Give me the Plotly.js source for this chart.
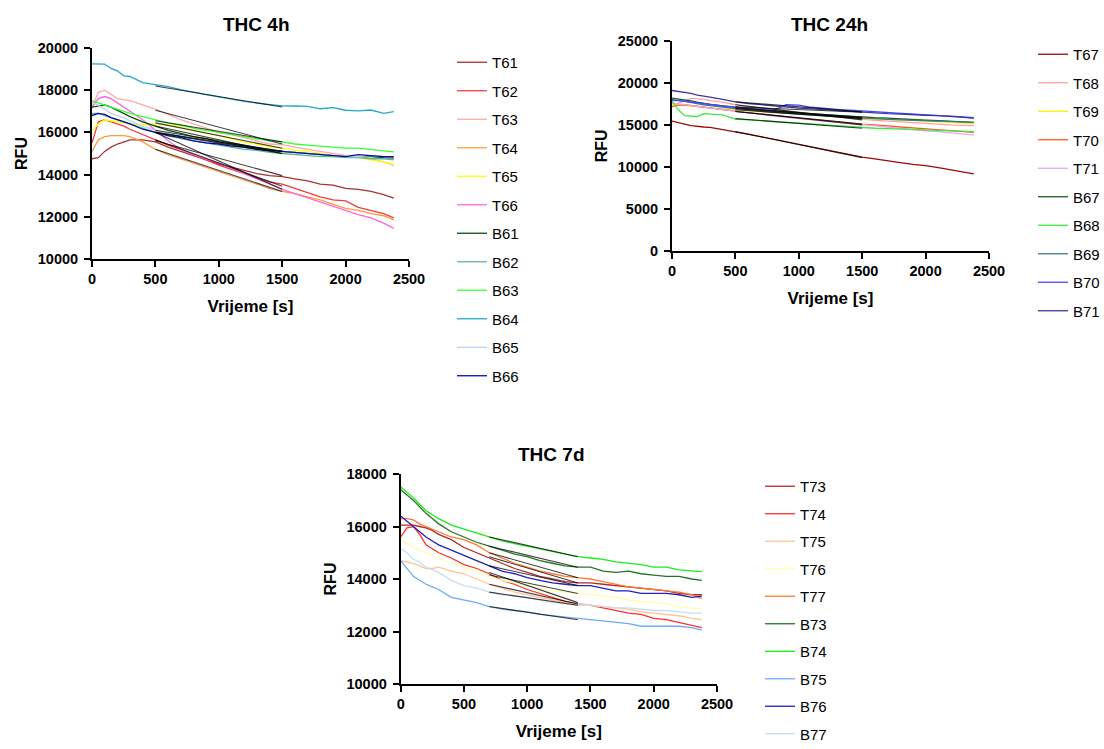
<!DOCTYPE html>
<html><head><meta charset="utf-8">
<script src="https://cdn.plot.ly/plotly-3.0.1.min.js"></script>
<style>html,body{margin:0;padding:0;background:#fff}#chart{width:1104px;height:749px}.legend .scrollbar{display:none}</style>
</head><body><div id="chart"></div>
<script>
// shared time axis (s)
const time = [0,50,100,150,200,250,300,400,500,600,700,800,900,1000,1100,1200,1300,1400,1500,1600,1700,1800,1900,2000,2100,2200,2300,2380];

// ---------- THC 4h ----------
const names4h = ['T61','T62','T63','T64','T65','T66','B61','B62','B63','B64','B65','B66'];
const colors4h = ['#a83232','#f03c3c','#ffa8a8','#ff9a3c','#ffff00','#ff66dd','#0b4d0b','#5cb89c','#33ff33','#26a6c8','#b8d4f2','#0a0aa0'];
const T61 = [14750,14800,15100,15300,15450,15550,15650,15650,15550,15300,15100,14900,14700,14500,14350,14200,14050,13950,13900,13800,13700,13550,13500,13350,13300,13200,13050,12880];
const T62 = [15500,16500,16600,16500,16400,16300,16150,15900,15650,15400,15200,14950,14700,14450,14250,14050,13850,13650,13550,13350,13150,12950,12800,12750,12450,12300,12150,11950];
const T63 = [17200,17900,18000,17800,17600,17550,17500,17300,17100,16850,16600,16400,16200,16000,15900,15750,15600,15450,15420,15300,15200,15100,15000,14900,14850,14750,14600,14420];
const T64 = [15100,15650,15800,15850,15850,15850,15800,15550,15200,14950,14750,14550,14350,14150,13950,13750,13550,13350,13200,13100,12950,12800,12600,12400,12300,12150,12050,11850];
const T65 = [16100,16400,16600,16550,16500,16450,16400,16350,16400,16350,16250,16100,15950,15850,15700,15550,15450,15300,15250,15150,15100,15000,14900,14850,14800,14700,14600,14480];
const T66 = [17200,17600,17700,17600,17400,17200,17000,16600,16100,15600,15200,14950,14750,14550,14300,14050,13800,13550,13300,13100,12900,12700,12500,12300,12100,11950,11700,11450];
const B61 = [17200,17250,17300,17200,17050,16900,16750,16500,16300,16100,15950,15800,15700,15550,15450,15350,15250,15150,15100,15050,15000,14950,14900,14850,14850,14850,14800,14780];
const B62 = [16900,16900,16800,16700,16600,16500,16400,16200,16000,15850,15700,15600,15500,15400,15300,15200,15150,15050,15000,14950,14900,14850,14850,14800,14800,14750,14750,14700];
const B63 = [17500,17400,17300,17200,17100,17000,16900,16750,16600,16450,16350,16200,16100,16000,15900,15800,15700,15600,15550,15450,15400,15350,15300,15250,15250,15200,15150,15080];
const B64 = [19250,19250,19240,19030,18920,18680,18650,18360,18280,18170,18030,17900,17790,17680,17560,17470,17390,17310,17260,17250,17230,17120,17170,17050,17020,17060,16900,16980];
const B65 = [17400,17300,17100,16900,16800,16700,16550,16300,16100,15950,15800,15700,15550,15450,15350,15250,15200,15150,15100,15050,15000,14950,14900,14850,14850,14900,14850,14850];
const B66 = [16800,16900,16850,16700,16600,16500,16400,16150,16000,15850,15750,15600,15500,15450,15350,15300,15200,15150,15100,15050,15000,14950,14900,14850,14950,14900,14850,14850];
const series4h = [T61,T62,T63,T64,T65,T66,B61,B62,B63,B64,B65,B66];
const fitX4h = [500,1500];
const fitStart4h = [15600,15650,17050,15200,16450,16000,16300,16000,16550,18200,16100,16000];
const fitEnd4h   = [13950,13450,15450,13200,15250,13300,15000,15000,15550,17200,15100,15100];

// ---------- THC 24h ----------
const names24h = ['T67','T68','T69','T70','T71','B67','B68','B69','B70','B71'];
const colors24h = ['#9a0a0a','#ffa0a0','#ffee00','#ff5a14','#e4a8f0','#1d5e1d','#40e640','#3a7f8c','#4646ff','#3a3a9e'];
const T67 = [15450,15300,15100,14900,14800,14750,14700,14450,14200,13900,13600,13300,13000,12700,12400,12100,11800,11450,11150,10950,10700,10500,10300,10150,9900,9650,9400,9150];
const T68 = [17100,17600,17900,18150,18100,18050,17900,17700,17400,17200,17000,16800,16600,16400,16250,16100,15950,15800,15650,15550,15450,15350,15250,15150,15050,15000,14950,14900];
const T69 = [17500,17400,17350,17250,17200,17100,17000,16900,16800,16650,16550,16450,16350,16250,16150,16050,15950,15850,15750,15700,15650,15550,15500,15450,15350,15300,15250,15150];
const T70 = [17200,17350,17400,17300,17200,17100,17000,16800,16600,16450,16300,16100,15950,15800,15650,15500,15350,15200,15100,15000,14850,14750,14650,14550,14450,14300,14200,14100];
const T71 = [17600,17500,17400,17300,17200,17100,17000,16800,16600,16400,16200,16050,15900,15750,15600,15450,15300,15150,15000,14850,14700,14600,14450,14300,14200,14050,13900,13780];
const B67 = [18200,18100,18000,17850,17700,17550,17450,17250,17050,16900,16800,16650,16500,16400,16300,16200,16100,16000,15900,15850,15800,15700,15650,15550,15500,15450,15400,15300];
const B68 = [17800,16800,16100,16050,16000,16350,16300,16200,15700,15600,15500,15400,15300,15200,15100,15000,14900,14750,14650,14600,14550,14500,14450,14400,14350,14300,14250,14200];
const B69 = [17900,17900,17800,17650,17500,17400,17300,17100,16950,16800,16650,16550,16400,16300,16200,16100,16000,15900,15800,15750,15650,15600,15550,15500,15450,15400,15350,15300];
const B70 = [18000,17900,17800,17700,17600,17500,17400,17250,17100,16950,16800,16700,17400,17350,17100,16950,16850,16750,16650,16550,16450,16400,16300,16200,16100,16050,15950,15850];
const B71 = [19100,19000,18900,18750,18550,18400,18300,18050,17750,17550,17400,17300,17150,17000,16900,16800,16700,16650,16550,16450,16350,16300,16200,16150,16100,16000,15900,15800];
const series24h = [T67,T68,T69,T70,T71,B67,B68,B69,B70,B71];
const fitX24h = [500,1500];
const fitStart24h = [14200,17400,16800,16600,16600,17050,15750,16950,17150,17750];
const fitEnd24h   = [11100,15600,15750,15100,15000,15900,14600,15800,16500,16550];

// ---------- THC 7d ----------
const names7d = ['T73','T74','T75','T76','T77','B73','B74','B75','B76','B77'];
const colors7d = ['#b42828','#ff2e2e','#ffc48f','#ffffa8','#ff7a30','#267326','#16ee16','#70aaf5','#2020bb','#c8ddf5'];
const T73 = [16050,16050,16050,16000,15950,15850,15700,15500,15200,15000,14800,14600,14400,14250,14100,14000,13900,13850,13850,13800,13750,13700,13650,13600,13550,13450,13400,13400];
const T74 = [15600,15950,16000,15700,15300,15150,15000,14800,14550,14400,14200,13950,13800,13600,13450,13300,13150,13050,13000,12900,12800,12700,12650,12500,12450,12350,12250,12150];
const T75 = [14700,14650,14600,14500,14400,14400,14450,14300,14200,14000,13800,13650,13500,13400,13300,13200,13100,13050,13000,12950,12900,12850,12750,12700,12650,12600,12500,12450];
const T76 = [15500,15350,15200,15100,15000,14900,14800,14600,14450,14300,14100,13950,13850,13750,13650,13550,13500,13450,13400,13350,13300,13200,13150,13100,13050,12950,12900,12850];
const T77 = [16300,16300,16250,16100,16000,15900,15800,15600,15500,15300,15000,14800,14600,14450,14300,14200,14100,14050,14000,13900,13800,13700,13650,13600,13550,13500,13400,13250];
const B73 = [17400,17200,17000,16750,16500,16300,16100,15800,15600,15400,15250,15100,14950,14850,14700,14600,14500,14450,14450,14300,14250,14300,14200,14150,14100,14100,14000,13950];
const B74 = [17500,17300,17100,16850,16600,16450,16300,16050,15900,15750,15600,15450,15350,15250,15150,15050,14950,14850,14800,14750,14650,14600,14550,14450,14450,14350,14300,14280];
const B75 = [14700,14400,14100,13950,13800,13700,13600,13300,13200,13100,12950,12850,12800,12750,12650,12600,12550,12500,12450,12400,12350,12300,12200,12200,12200,12200,12150,12050];
const B76 = [16400,16200,16000,15800,15600,15450,15300,15100,14900,14700,14500,14300,14200,14050,13950,13850,13800,13750,13750,13650,13550,13550,13450,13450,13450,13400,13300,13350];
const B77 = [15150,15000,14750,14650,14450,14350,14250,13950,13750,13650,13500,13400,13350,13300,13200,13100,13050,13000,13000,12950,12900,12900,12850,12800,12800,12750,12700,12700];
const series7d = [T73,T74,T75,T76,T77,B73,B74,B75,B76,B77];
const fitX7d = [700,1400];
const fitStart7d = [14850,14250,13800,14150,15000,15250,15600,12950,14500,13500];
const fitEnd7d   = [13850,13100,13050,13450,14050,14450,14850,12450,13750,13000];

const FONT = 'Liberation Sans, Arial, sans-serif';
const traces = [];
function addPanel(names, colors, series, fitX, fitS, fitE, xa, ya, leg) {
  names.forEach((n, i) => {
    traces.push({x: time, y: series[i], type: 'scatter', mode: 'lines', name: n,
      line: {color: colors[i], width: 1.3}, xaxis: xa, yaxis: ya, legend: leg,
      legendgroup: leg + n, hoverinfo: 'skip'});
  });
  names.forEach((n, i) => {
    traces.push({x: fitX, y: [fitS[i], fitE[i]], type: 'scatter', mode: 'lines', name: n + ' fit',
      line: {color: '#000', width: 1.1}, opacity: 0.75, xaxis: xa, yaxis: ya, legend: leg,
      legendgroup: leg + n, showlegend: false, hoverinfo: 'skip'});
  });
}
addPanel(names4h, colors4h, series4h, fitX4h, fitStart4h, fitEnd4h, 'x', 'y', 'legend');
addPanel(names24h, colors24h, series24h, fitX24h, fitStart24h, fitEnd24h, 'x2', 'y2', 'legend2');
addPanel(names7d, colors7d, series7d, fitX7d, fitStart7d, fitEnd7d, 'x3', 'y3', 'legend3');

const tickFont = {family: FONT, size: 14.5, weight: 'bold', color: '#000'};
function xAxis(domain, anchor) {
  return {domain: domain, anchor: anchor, range: [0, 2500], tickvals: [0,500,1000,1500,2000,2500], tickformat: 'd',
    showline: true, linewidth: 2, linecolor: '#000', ticks: 'outside', ticklen: 6, tickwidth: 2,
    tickcolor: '#000', showgrid: false, zeroline: false, tickfont: tickFont, automargin: false,
    title: {text: 'Vrijeme [s]', font: {family: FONT, size: 17, weight: 'bold', color: '#000'}, standoff: 14}};
}
function yAxis(domain, anchor, range, tv) {
  return {domain: domain, anchor: anchor, range: range, tickvals: tv, tickformat: 'd',
    showline: true, linewidth: 2, linecolor: '#000', ticks: 'outside', ticklen: 6, tickwidth: 2, ticklabelstandoff: 3,
    tickcolor: '#000', showgrid: false, zeroline: false, tickfont: tickFont, automargin: false,
    title: {text: 'RFU', font: {family: FONT, size: 16, weight: 'bold', color: '#000'}, standoff: 6}};
}
function leg(x, y, gap) {
  return {x: x, y: y, xanchor: 'left', yanchor: 'top', traceorder: 'grouped', tracegroupgap: gap,
    font: {family: FONT, size: 15, color: '#000'}, bgcolor: 'rgba(0,0,0,0)', borderwidth: 0};
}
function title(text, x, y) {
  return {text: '<b>' + text + '</b>', xref: 'paper', yref: 'paper', x: x, y: y, xanchor: 'center', yanchor: 'middle',
    showarrow: false, font: {family: FONT, size: 19, color: '#000'}};
}
const W = 1104, H = 749;
const layout = {
  width: W, height: H, margin: {l: 0, r: 0, t: 0, b: 0, autoexpand: false}, paper_bgcolor: '#fff', plot_bgcolor: '#fff',
  showlegend: true,
  xaxis: xAxis([92/W, 409/W], 'y'),
  yaxis: yAxis([1-259/H, 1-48/H], 'x', [10000, 20000], [10000,12000,14000,16000,18000,20000]),
  xaxis2: xAxis([672/W, 989/W], 'y2'),
  yaxis2: yAxis([1-250.7/H, 1-41/H], 'x2', [0, 25000], [0,5000,10000,15000,20000,25000]),
  xaxis3: xAxis([400.7/W, 717/W], 'y3'),
  yaxis3: yAxis([1-684/H, 1-474/H], 'x3', [10000, 18000], [10000,12000,14000,16000,18000]),
  legend: leg(452/W, 1-46/H, 6),
  legend2: leg(1033/W, 1-38/H, 6),
  legend3: leg(760/W, 1-470/H, 5),
  annotations: [title('THC 4h', 256/W, 1-25/H), title('THC 24h', 829/W, 1-25/H), title('THC 7d', 551/W, 1-455/H)]
};
Plotly.newPlot('chart', traces, layout, {displayModeBar: false, staticPlot: true});
</script></body></html>
